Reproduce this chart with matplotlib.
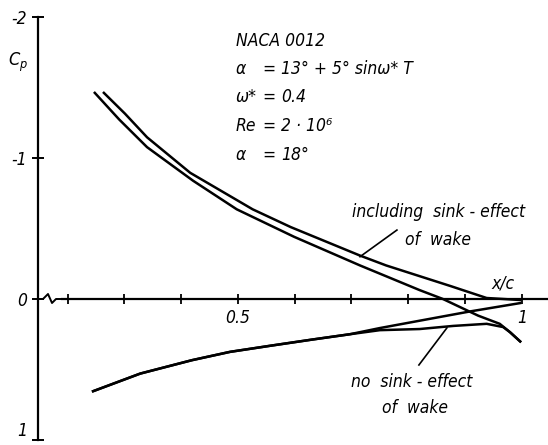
import matplotlib
matplotlib.use('Agg')
import matplotlib.pyplot as plt
from matplotlib.transforms import blended_transform_factory

plt.rcParams['font.family'] = ['DejaVu Sans']
plt.rcParams['font.style'] = 'italic'
plt.rcParams['font.stretch'] = 'condensed'
plt.rcParams['axes.unicode_minus'] = False
plt.rcParams['mathtext.fontset'] = 'dejavusans'

# suction side, with sink effect of the wake
x_upper_sink = [0.264, 0.301, 0.340, 0.416, 0.526, 0.593, 0.715, 0.761,
                0.875, 0.938, 0.997]
cp_upper_sink = [-1.462, -1.315, -1.147, -0.895, -0.636, -0.51, -0.308,
                 -0.238, -0.091, -0.007, 0.007]

# suction side, no sink effect
x_upper_nosink = [0.248, 0.291, 0.340, 0.421, 0.498, 0.599, 0.715, 0.820,
                  0.861, 0.923, 0.961, 0.979, 0.997]
cp_upper_nosink = [-1.462, -1.273, -1.077, -0.839, -0.636, -0.441, -0.238,
                   -0.063, 0.0, 0.118, 0.176, 0.235, 0.301]

# pressure side, with sink effect
x_lower_sink = [0.245, 0.328, 0.419, 0.486, 0.558, 0.632, 0.697, 0.750,
                0.820, 0.909, 0.997]
cp_lower_sink = [0.654, 0.529, 0.434, 0.375, 0.331, 0.287, 0.25, 0.206,
                 0.154, 0.088, 0.029]

# pressure side, no sink effect
x_lower_nosink = [0.245, 0.328, 0.419, 0.486, 0.558, 0.632, 0.697, 0.750,
                  0.820, 0.879, 0.938, 0.967, 0.979, 0.997]
cp_lower_nosink = [0.654, 0.529, 0.434, 0.375, 0.331, 0.287, 0.25, 0.221,
                   0.213, 0.191, 0.176, 0.199, 0.235, 0.301]

x_ticks = [0.2, 0.3, 0.4, 0.5, 0.6, 0.7, 0.8, 0.9, 1.0]
x_tick_labels = ['', '', '', '0.5', '', '', '', '', '1']
y_ticks = [-2, -1, 0, 1]
y_tick_labels = ['-2', '-1', '0', '1']

fig = plt.figure(figsize=(5.48, 4.45), dpi=100)
ax = fig.add_axes([38 / 548, 5 / 445, 510 / 548, 423 / 445])
ax.set_xlim(0.148, 1.046)
ax.set_ylim(1.0, -2.0)

lw = 1.8
ax.plot(x_upper_sink, cp_upper_sink, color='black', lw=lw)
ax.plot(x_upper_nosink, cp_upper_nosink, color='black', lw=lw)
ax.plot(x_lower_sink, cp_lower_sink, color='black', lw=lw)
ax.plot(x_lower_nosink, cp_lower_nosink, color='black', lw=lw)

# axes: cp axis on the left, x/c axis through cp = 0 with a break
for side in ['top', 'right']:
    ax.spines[side].set_visible(False)
ax.spines['left'].set_linewidth(1.6)
ax.spines['bottom'].set_position(('data', 0))
ax.spines['bottom'].set_bounds(0.19, 1.046)
ax.spines['bottom'].set_linewidth(1.6)

trans = blended_transform_factory(ax.transAxes, ax.transData)
zig_x = [0, 5 / 510, 10 / 510, 14 / 510, 18 / 510, 25 / 510]
zig_y = [0, 0, -5 / 141, 4 / 141, 0, 0]
ax.plot(zig_x, zig_y, color='black', lw=1.4, transform=trans, clip_on=False)

ax.set_xticks(x_ticks)
ax.set_xticklabels(x_tick_labels)
ax.set_yticks(y_ticks)
ax.set_yticklabels(y_tick_labels)
ax.tick_params(axis='x', direction='inout', length=7, width=1.3,
               pad=4, labelsize=12.5)
ax.tick_params(axis='y', direction='inout', length=8, width=1.4,
               pad=4, labelsize=12.5)
ax.get_yticklabels()[-1].set_va('bottom')

ax.text(0.095, -1.68, r'$C_p$', fontsize=13, ha='left', va='center')

# parameter block
txt = dict(fontsize=12.5, ha='left', va='baseline')
ax.text(0.4965, -1.794, 'NACA 0012', **txt)
ax.text(0.4965, -1.596, 'α', **txt)
ax.text(0.5425, -1.596, '=', **txt)
ax.text(0.5757, -1.596, '13° + 5° sinω* T', **txt)
ax.text(0.4965, -1.397, 'ω*', **txt)
ax.text(0.5425, -1.397, '=', **txt)
ax.text(0.5757, -1.397, '0.4', **txt)
ax.text(0.4965, -1.191, 'Re', **txt)
ax.text(0.5425, -1.191, '=', **txt)
ax.text(0.5757, -1.191, '2 · 10⁶', **txt)
ax.text(0.4965, -0.986, 'α', **txt)
ax.text(0.5425, -0.986, '=', **txt)
ax.text(0.5757, -0.986, '18°', **txt)

ax.text(0.947, -0.078, 'x/c', **txt)

ax.text(0.7007, -0.582, 'including  sink - effect', **txt)
ax.text(0.794, -0.383, 'of  wake', **txt)
ax.plot([0.780, 0.715], [-0.489, -0.300], color='black', lw=1.2)

ax.text(0.699, 0.624, 'no  sink - effect', **txt)
ax.text(0.7535, 0.809, 'of  wake', **txt)
ax.plot([0.8187, 0.868], [0.468, 0.205], color='black', lw=1.2)

fig.savefig('out.png', dpi=100)
